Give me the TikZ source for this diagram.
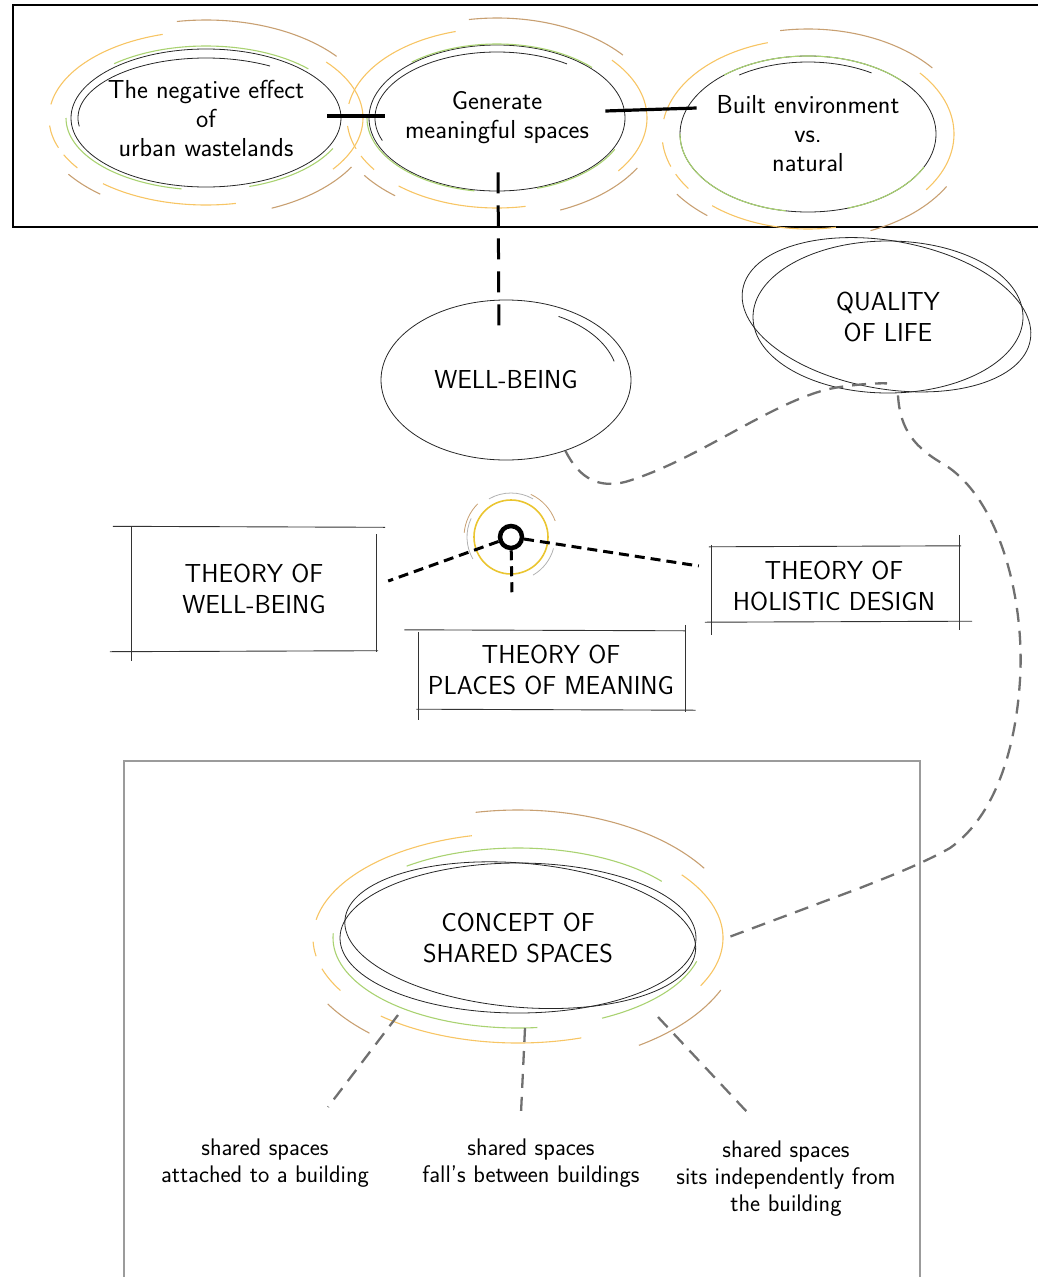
\documentclass[tikz,border=0pt]{standalone}
\usetikzlibrary{shapes.geometric, positioning}

\definecolor{ringorange}{HTML}{F7C564}
\definecolor{ringbrown}{HTML}{C8A072}
\definecolor{ringgreen}{HTML}{A9D271}
\definecolor{hubyellow}{HTML}{EAC530}
\definecolor{dashgray}{HTML}{707070}
\definecolor{framegray}{HTML}{9B9B9B}

\newcommand{\handfont}{\sffamily\fontsize{26}{29}\selectfont}
\newcommand{\capsfont}{\sffamily\fontsize{26}{31}\selectfont}
\newcommand{\notefont}{\sffamily\fontsize{24}{27}\selectfont}

\begin{document}
\begin{tikzpicture}[x=1pt, y=-1pt,
    blob/.style={ellipse, draw=black!85, line width=0.8pt, inner xsep=-6pt, inner ysep=-4pt, align=center, font=\handfont},
    stroke/.style={draw=black!85, line width=0.8pt},
    theory/.style={rectangle, inner sep=0pt, align=center, font=\capsfont},
    boxline/.style={draw=black!80, line width=0.9pt},
    note/.style={align=center, font=\notefont},
    orangearc/.style={draw=ringorange, line width=1.1pt},
    brownarc/.style={draw=ringbrown, line width=1.1pt},
    greenarc/.style={draw=ringgreen, line width=1.1pt},
    solidlink/.style={line width=3.2pt},
    blackdash/.style={line width=3pt, dash pattern=on 21pt off 12pt},
    hubdash/.style={line width=3pt, dash pattern=on 10pt off 6pt},
    graydash/.style={draw=dashgray, line width=2.3pt, dash pattern=on 14pt off 9pt}
]
\useasboundingbox (0,0) rectangle (1037,1277);

% Frames
\draw[line width=2.5pt] (13,5) rectangle (1045,227);
\draw[framegray, line width=2pt] (124,761) rectangle (920,1295);

% Top row: three ideas
\node[blob, minimum width=270pt, minimum height=138pt] (waste) at (206,118) {The negative effect\\of\\urban wastelands};
\node[blob, minimum width=256pt, minimum height=146pt] (meaning) at (497,118) {Generate\\meaningful spaces};
\node[blob, minimum width=256pt, minimum height=156pt] (builtenv) at (808,134) {Built environment\\vs.\\natural};

\draw[stroke] (waste.center) ++({128*cos(172)},{60*sin(172)}) arc[start angle=172, end angle=300, x radius=128, y radius=60];
\draw[stroke] (meaning.center) ++({122*cos(160)},{66*sin(160)}) arc[start angle=160, end angle=305, x radius=122, y radius=66];
\draw[stroke] (builtenv.center) ++({120*cos(235)},{72*sin(235)}) arc[start angle=235, end angle=302, x radius=120, y radius=72];

% coloured rings round the top row
\foreach \n/\ox/\oy/\bx/\by/\gx/\gy in {waste/157/87/168/98/140/72, meaning/150/90/162/100/130/74, builtenv/146/95/160/105/128/78} {
  \foreach \a/\b in {189/254, 320/396, 79/131, 145/155, 160/175}
    \draw[orangearc] (\n.center) ++({\ox*cos(\a)},{\oy*sin(\a)}) arc[start angle=\a, end angle=\b, x radius=\ox, y radius=\oy];
  \foreach \a/\b in {260/321, 129/145, 30/67}
    \draw[brownarc] (\n.center) ++({\bx*cos(\a)},{\by*sin(\a)}) arc[start angle=\a, end angle=\b, x radius=\bx, y radius=\by];
  \foreach \a/\b in {229/317, 100/180, 25/72}
    \draw[greenarc] (\n.center) ++({\gx*cos(\a)},{\gy*sin(\a)}) arc[start angle=\a, end angle=\b, x radius=\gx, y radius=\gy];
}

\draw[solidlink] ([shift={(-14,-2)}]waste.east) -- ([shift={(16,-2)}]meaning.west);
\draw[solidlink] ([shift={(-20,-7)}]meaning.east) -- ([shift={(17,-26)}]builtenv.west);

% Middle: well-being and quality of life
\node[blob, font=\capsfont, minimum width=250pt, minimum height=160pt] (wellbeing) at (506,380) {WELL-BEING};
\draw[stroke] (wellbeing.center) ++({112*cos(298)},{72*sin(298)}) arc[start angle=298, end angle=345, x radius=112, y radius=72];

\node[blob, font=\capsfont, minimum width=270pt, minimum height=152pt] (quality) at (888,317) {QUALITY\\OF LIFE};
\draw[stroke, rotate around={-10:(quality.center)}] ([shift={(-2,-2)}]quality.center) ellipse[x radius=146, y radius=74];

\draw[blackdash] ([shift={(1,-19)}]meaning.south) -- ([shift={(-7,35)}]wellbeing.north);

\draw[graydash] (wellbeing.-50) .. controls (580,480) and (600,488) .. (625,482)
  .. controls (700,460) and (780,395) .. (840,387) .. controls (860,384) and (878,383) .. ([shift={(-1,-10)}]quality.south);

% Theories round the hub
\node[circle, draw, line width=4.5pt, minimum size=22pt, inner sep=0pt] (hub) at (511,537) {};
\draw[hubyellow, line width=1.6pt] (hub.center) circle[radius=37];
\foreach \a/\b in {150/205, 240/300, 15/60}
  \draw[black!30, line width=0.8pt] (hub.center) ++(\a:44) arc[start angle=\a, end angle=\b, radius=44];
\foreach \a/\b in {185/225, 295/340}
  \draw[ringbrown, line width=0.8pt] (hub.center) ++(\a:47) arc[start angle=\a, end angle=\b, radius=47];

\node[theory, minimum width=248pt, minimum height=125pt] (twb) at (254,589) {THEORY OF\\WELL-BEING};
\node[theory, minimum width=269pt, minimum height=80pt] (tpm) at (551,670) {THEORY OF\\PLACES OF MEANING};
\node[theory, minimum width=250pt, minimum height=78pt] (thd) at (834,586) {THEORY OF\\HOLISTIC DESIGN};

\draw[boxline] ([shift={(-17,0)}]twb.north west) -- ([shift={(7,1)}]twb.north east);
\draw[boxline] ([shift={(-20,0)}]twb.south west) -- ([shift={(0,-1)}]twb.south east);
\draw[boxline] ([shift={(2,0)}]twb.north west) -- ([shift={(2,9)}]twb.south west);
\draw[boxline] ([shift={(-2,8)}]twb.north east) -- ([shift={(-2,0)}]twb.south east);

\draw[boxline] ([shift={(-12,0)}]tpm.north west) -- ([shift={(0,1)}]tpm.north east);
\draw[boxline] ([shift={(0,-5)}]tpm.north east) -- ([shift={(0,2)}]tpm.south east);
\draw[boxline] ([shift={(2,2)}]tpm.north west) -- ([shift={(2,10)}]tpm.south west);
\draw[boxline] ([shift={(0,-1)}]tpm.south west) -- ([shift={(10,0)}]tpm.south east);

\draw[boxline] (thd.north west) -- ([shift={(2,-1)}]thd.north east);
\draw[boxline] ([shift={(3,-2)}]thd.north west) -- ([shift={(3,10)}]thd.south west);
\draw[boxline] ([shift={(0,-12)}]thd.north east) -- ([shift={(0,5)}]thd.south east);
\draw[boxline] ([shift={(-4,-3)}]thd.south west) -- ([shift={(13,-4)}]thd.south east);

\coordinate (hubdown) at (512,598);
\draw[hubdash] (hub) -- ([shift={(10,-8)}]twb.east);
\draw[hubdash] (hub) -- ([shift={(-10,-20)}]thd.west);
\draw[hubdash] (hub) -- (hubdown);

% Bottom: concept of shared spaces
\node[blob, font=\capsfont, minimum width=356pt, minimum height=150pt] (shared) at (518,938) {CONCEPT OF\\SHARED SPACES};
\draw[stroke, rotate around={-5:(shared.center)}] ([shift={(2,-3)}]shared.center) ellipse[x radius=176, y radius=72];

\foreach \a/\b in {190/257, 170/178, 150/163, 72/132, 323/387}
  \draw[orangearc] (shared.center) ++({205*cos(\a)},{105*sin(\a)}) arc[start angle=\a, end angle=\b, x radius=205, y radius=105];
\foreach \a/\b in {259/327, 132/149, 24/57}
  \draw[brownarc] (shared.center) ++({222*cos(\a)},{128*sin(\a)}) arc[start angle=\a, end angle=\b, x radius=222, y radius=128];
\foreach \a/\b in {233/321, 84/183, 15/63}
  \draw[greenarc] (shared.center) ++({185*cos(\a)},{90*sin(\a)}) arc[start angle=\a, end angle=\b, x radius=185, y radius=90];

\draw[graydash] ([shift={(10,2)}]quality.south) .. controls (900,430) and (915,448) .. (945,465)
  .. controls (1000,500) and (1025,600) .. (1020,680) .. controls (1015,760) and (990,820) .. (950,848)
  .. controls (920,865) and (880,880) .. (860,888) -- ([shift={(30,0)}]shared.east);

\node[note] (attached) at (265,1163) {shared spaces\\attached to a building};
\node[note] (between) at (531,1163) {shared spaces\\fall's between buildings};
\node[note] (apart) at (786,1179) {shared spaces\\sits independently from\\the building};

\coordinate (attachedend) at (328,1107);
\coordinate (betweenend) at (521,1113);
\coordinate (apartend) at (748,1113);
\draw[graydash] ([shift={(-120,77)}]shared.center) -- (attachedend);
\draw[graydash] ([shift={(7,90)}]shared.center) -- (betweenend);
\draw[graydash] ([shift={(140,79)}]shared.center) -- (apartend);

\end{tikzpicture}
\end{document}
